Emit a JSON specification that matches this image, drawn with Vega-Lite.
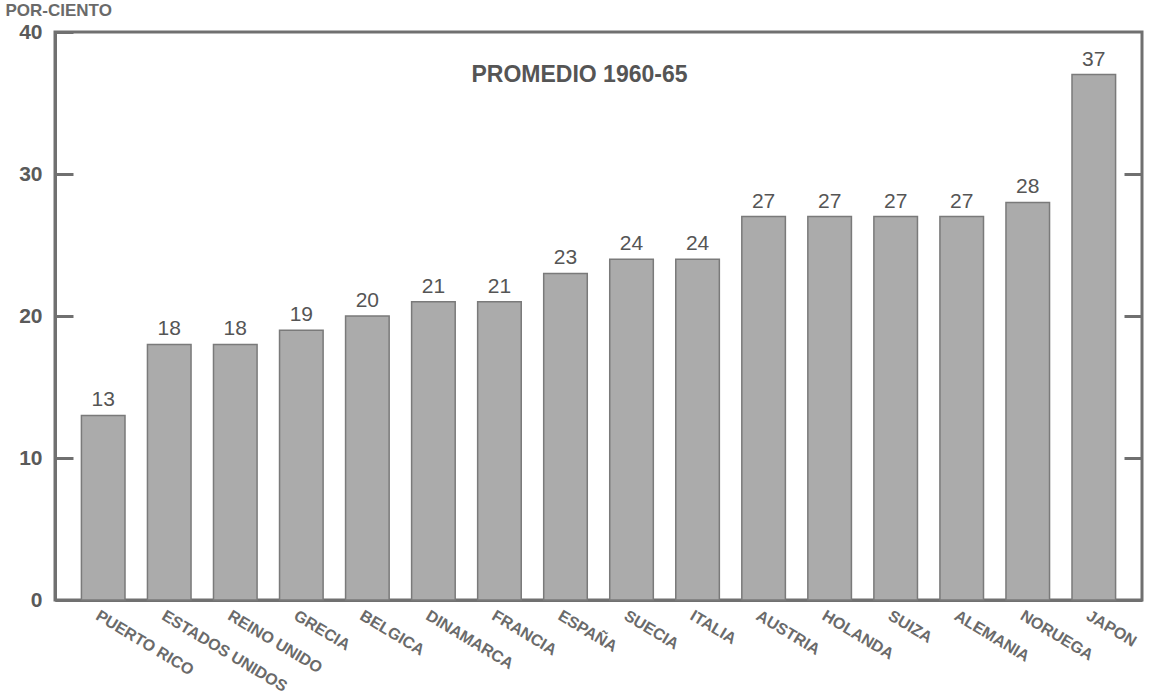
{
  "$schema": "https://vega.github.io/schema/vega-lite/v6.json",
  "width": 1087,
  "height": 568,
  "autosize": {"type": "none"},
  "padding": {"left": 55, "top": 32, "right": 9, "bottom": 98},
  "background": "white",
  "config": {
    "view": {"stroke": "#707070", "strokeWidth": 3},
    "font": "Liberation Sans"
  },
  "data": {
    "values": [
      {"pais": "PUERTO RICO", "pct": 13},
      {"pais": "ESTADOS UNIDOS", "pct": 18},
      {"pais": "REINO UNIDO", "pct": 18},
      {"pais": "GRECIA", "pct": 19},
      {"pais": "BELGICA", "pct": 20},
      {"pais": "DINAMARCA", "pct": 21},
      {"pais": "FRANCIA", "pct": 21},
      {"pais": "ESPAÑA", "pct": 23},
      {"pais": "SUECIA", "pct": 24},
      {"pais": "ITALIA", "pct": 24},
      {"pais": "AUSTRIA", "pct": 27},
      {"pais": "HOLANDA", "pct": 27},
      {"pais": "SUIZA", "pct": 27},
      {"pais": "ALEMANIA", "pct": 27},
      {"pais": "NORUEGA", "pct": 28},
      {"pais": "JAPON", "pct": 37}
    ]
  },
  "encoding": {
    "x": {
      "field": "pais",
      "type": "nominal",
      "sort": null,
      "scale": {"paddingInner": 0.34, "paddingOuter": 0.4},
      "axis": {
        "title": null,
        "labelAngle": 31,
        "labelAlign": "left",
        "labelBaseline": "middle",
        "labelOffset": -6,
        "labelPadding": 14,
        "labelFont": "Liberation Sans",
        "labelFontSize": 16,
        "labelFontWeight": "bold",
        "labelColor": "#6a6a6a",
        "ticks": false,
        "domainColor": "#707070",
        "domainWidth": 3
      }
    },
    "y": {
      "field": "pct",
      "type": "quantitative",
      "scale": {"domain": [0, 40], "nice": false}
    }
  },
  "layer": [
    {
      "mark": {"type": "bar", "fill": "#ababab", "stroke": "#7a7a7a", "strokeWidth": 1.5},
      "encoding": {
        "y": {
          "field": "pct",
          "type": "quantitative",
          "scale": {"domain": [0, 40], "nice": false},
          "axis": {
            "orient": "left",
            "values": [0, 10, 20, 30, 40],
            "title": "POR-CIENTO",
            "titleAngle": 0,
            "titleAlign": "left",
            "titleBaseline": "bottom",
            "titleX": -50,
            "titleY": -13,
            "titleFont": "Liberation Sans",
            "titleFontSize": 17,
            "titleFontWeight": "bold",
            "titleColor": "#6a6a6a",
            "labelFont": "Liberation Sans",
            "labelFontSize": 21,
            "labelFontWeight": "bold",
            "labelColor": "#5a5a5a",
            "ticks": true,
            "tickSize": -18,
            "tickWidth": 3,
            "tickColor": "#707070",
            "labelPadding": 31,
            "grid": false,
            "zindex": 1,
            "domainColor": "#707070",
            "domainWidth": 3
          }
        }
      }
    },
    {
      "mark": {"type": "text", "baseline": "bottom", "dy": -5, "fontSize": 21, "color": "#555555", "font": "Liberation Sans"},
      "encoding": {
        "text": {"field": "pct", "type": "quantitative"},
        "y": {
          "field": "pct",
          "type": "quantitative",
          "scale": {"domain": [0, 40], "nice": false},
          "axis": {
            "orient": "right",
            "values": [10, 20, 30],
            "title": null,
            "labels": false,
            "tickSize": -18,
            "tickWidth": 3,
            "tickColor": "#707070",
            "grid": false,
            "zindex": 1,
            "domain": false
          }
        }
      }
    },
    {
      "data": {"values": [{"pais": "ESPAÑA", "pos": 37.0, "t": "PROMEDIO 1960-65"}]},
      "mark": {"type": "text", "fontSize": 23, "fontWeight": "bold", "color": "#555555", "font": "Liberation Sans", "dx": 14},
      "encoding": {
        "x": {"field": "pais", "type": "nominal"},
        "y": {"field": "pos", "type": "quantitative", "axis": null},
        "text": {"field": "t"}
      }
    }
  ],
  "resolve": {"scale": {"y": "shared"}, "axis": {"y": "independent"}}
}
